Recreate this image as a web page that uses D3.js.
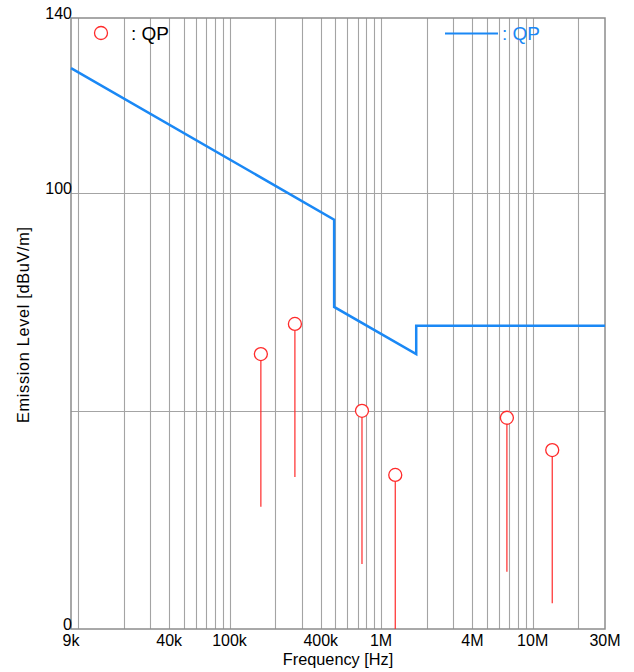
<!DOCTYPE html>
<html>
<head>
<meta charset="utf-8">
<script src="https://cdn.jsdelivr.net/npm/d3@7"></script>
<style>
  html, body { margin: 0; padding: 0; background: #fff; }
  svg { display: block; font-family: "Liberation Sans", Arial, sans-serif; }
</style>
</head>
<body>
<svg id="chart" width="634" height="672"></svg>
<script>
// Quasi-peak measurements: frequency [Hz], level [dBuV/m], lower end of stem
const qpFreq  = [161e3, 270e3, 748e3, 1.24e6, 6.76e6, 13.46e6];
const qpLevel = [63.0, 69.9, 50.0, 35.3, 48.4, 41.0];
const qpLow   = [28.0, 34.8, 14.9, 0.0, 13.1, 5.9];

// QP limit line (stepped), frequency [Hz] and level [dBuV/m]
const limitFreq  = [9e3, 490e3, 490e3, 1.705e6, 1.705e6, 30e6];
const limitLevel = [128.5, 93.8, 73.8, 63.0, 69.5, 69.5];

// Axis ticks
const xTickVals   = [9e3, 40e3, 100e3, 400e3, 1e6, 4e6, 10e6, 30e6];
const xTickLabels = ["9k", "40k", "100k", "400k", "1M", "4M", "10M", "30M"];
const yTickVals   = [0, 100, 140];
const yGridVals   = [50, 100];

const svg = d3.select("#chart");
const plot = { left: 71, right: 605, top: 18, bottom: 629 };

const x = d3.scaleLog().domain([9e3, 30e6]).range([plot.left, plot.right]);
const y = d3.scaleLinear().domain([0, 140]).range([plot.bottom, plot.top]);

const blue = "#1a88f5";
const red = "#ff2a2a";
const gridColor = "#a4a4a4";

// vertical grid: 1..9 per decade
const vGrid = [];
for (let dec = 1e4; dec <= 1e7; dec *= 10) {
  for (let m = 1; m <= 9; m++) {
    const f = m * dec;
    if (f > 9e3 && f < 30e6) vGrid.push(f);
  }
}
svg.append("g").selectAll("line").data(vGrid).join("line")
  .attr("x1", d => Math.round(x(d)) + 0.5).attr("x2", d => Math.round(x(d)) + 0.5)
  .attr("y1", plot.top).attr("y2", plot.bottom)
  .attr("stroke", gridColor).attr("stroke-width", 1.1);

svg.append("g").selectAll("line").data(yGridVals).join("line")
  .attr("x1", plot.left).attr("x2", plot.right)
  .attr("y1", d => Math.round(y(d)) + 0.5).attr("y2", d => Math.round(y(d)) + 0.5)
  .attr("stroke", gridColor).attr("stroke-width", 1.1);

// frame
svg.append("rect")
  .attr("x", plot.left).attr("y", plot.top)
  .attr("width", plot.right - plot.left).attr("height", plot.bottom - plot.top)
  .attr("fill", "none").attr("stroke", "#8c8c8c").attr("stroke-width", 1.5);

// tick labels
svg.append("g").selectAll("text").data(yTickVals).join("text")
  .attr("x", plot.left + 1).attr("y", d => y(d) + 1)
  .attr("text-anchor", "end").attr("font-size", 16).attr("fill", "#000")
  .text(d => d);

svg.append("g").selectAll("text").data(xTickVals).join("text")
  .attr("x", d => x(d)).attr("y", 646)
  .attr("text-anchor", "middle").attr("font-size", 16).attr("fill", "#000")
  .text((d, i) => xTickLabels[i]);

// axis titles
svg.append("text")
  .attr("x", 338).attr("y", 665)
  .attr("text-anchor", "middle").attr("font-size", 16.3).attr("fill", "#000")
  .text("Frequency [Hz]");

svg.append("text")
  .attr("transform", "translate(29,325) rotate(-90)")
  .attr("text-anchor", "middle").attr("font-size", 16.3).attr("fill", "#000")
  .attr("textLength", 196).attr("lengthAdjust", "spacing")
  .text("Emission Level [dBuV/m]");

// limit line
const limitPts = limitFreq.map((f, i) => [f, limitLevel[i]]);
svg.append("path")
  .datum(limitPts)
  .attr("d", d3.line().x(d => x(d[0])).y(d => y(d[1])))
  .attr("fill", "none").attr("stroke", blue).attr("stroke-width", 2.5);

// QP measurement stems and markers
const r = 6.5;
const qp = qpFreq.map((f, i) => ({ f, v: qpLevel[i], lo: qpLow[i] }));
svg.append("g").selectAll("line").data(qp).join("line")
  .attr("x1", d => x(d.f)).attr("x2", d => x(d.f))
  .attr("y1", d => y(d.v) + r).attr("y2", d => y(d.lo))
  .attr("stroke", red).attr("stroke-width", 1.2);
svg.append("g").selectAll("circle").data(qp).join("circle")
  .attr("cx", d => x(d.f)).attr("cy", d => y(d.v)).attr("r", r)
  .attr("fill", "#fff").attr("stroke", red).attr("stroke-width", 1.3);

// legends
svg.append("circle").attr("cx", 101).attr("cy", 33).attr("r", r)
  .attr("fill", "none").attr("stroke", red).attr("stroke-width", 1.3);
svg.append("text").attr("x", 131).attr("y", 40)
  .attr("font-size", 19).attr("fill", "#000").text(": QP");

svg.append("line").attr("x1", 445).attr("x2", 498).attr("y1", 33.5).attr("y2", 33.5)
  .attr("stroke", blue).attr("stroke-width", 2);
svg.append("text").attr("x", 502).attr("y", 40)
  .attr("font-size", 19).attr("fill", blue).text(": QP");
</script>
</body>
</html>
